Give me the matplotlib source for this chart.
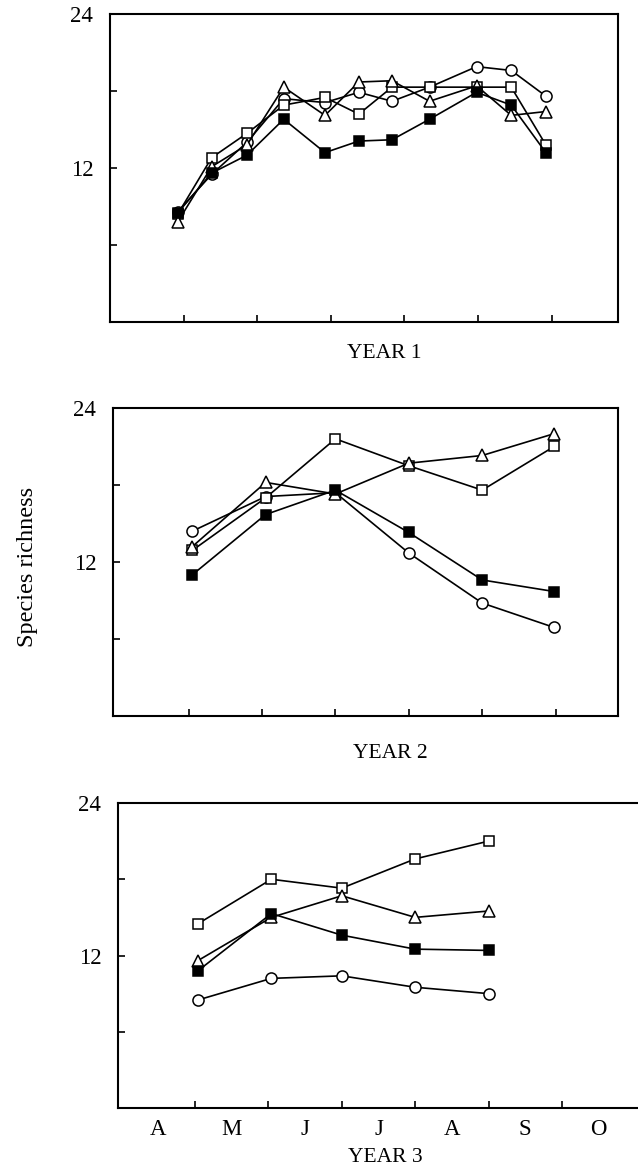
import matplotlib
matplotlib.use("Agg")
import matplotlib.pyplot as plt

# ---------------- data ----------------
months = ["A", "M", "J", "J", "A", "S", "O"]

y1_x = [0.92, 1.38, 1.86, 2.36, 2.92, 3.38, 3.83, 4.34, 4.98, 5.45, 5.92]
y1_circle = [8.6, 11.5, 14.0, 17.4, 17.1, 17.9, 17.2, 18.3, 19.9, 19.6, 17.6]
y1_square = [8.4, 12.8, 14.7, 16.9, 17.5, 16.2, 18.3, 18.3, 18.3, 18.3, 13.8]
y1_triangle = [7.8, 12.1, 13.8, 18.3, 16.1, 18.7, 18.8, 17.2, 18.4, 16.1, 16.4]
y1_filled = [8.5, 11.6, 13.0, 15.8, 13.2, 14.1, 14.2, 15.8, 17.9, 16.9, 13.2]

y2_x = [1.05, 2.05, 3.0, 4.0, 5.0, 5.98]
y2_circle = [14.4, 17.1, 17.4, 12.7, 8.8, 6.9]
y2_square = [12.9, 17.0, 21.6, 19.5, 17.6, 21.0]
y2_triangle = [13.2, 18.2, 17.3, 19.7, 20.3, 22.0]
y2_filled = [11.0, 15.7, 17.6, 14.3, 10.6, 9.7]

y3_x = [1.04, 2.04, 3.0, 4.0, 5.0]
y3_circle = [8.5, 10.2, 10.4, 9.5, 9.0]
y3_square = [14.5, 18.0, 17.3, 19.6, 21.0]
y3_triangle = [11.6, 15.0, 16.7, 15.0, 15.5]
y3_filled = [10.8, 15.3, 13.6, 12.5, 12.4]

# ---------------- style ----------------
plt.rcParams['font.family'] = ['Liberation Serif', 'DejaVu Serif']
FS = 15.5
TFS = 16.5

W, H = 638, 1171
fig = plt.figure(figsize=(W / 100, H / 100), dpi=100)


def add_axes(l, r, t, b):
    return fig.add_axes([l / W, 1 - b / H, (r - l) / W, (b - t) / H])


styles = [
    dict(marker='o', mfc='white', mec='black', ms=8.0),
    dict(marker='s', mfc='white', mec='black', ms=7.5),
    dict(marker='^', mfc='white', mec='black', ms=9.0),
    dict(marker='s', mfc='black', mec='black', ms=7.5),
]


def draw(ax, x, series, xlim):
    for ys, st in zip(series, styles):
        ax.plot(x, ys, color='black', lw=1.2, mew=1.1, zorder=3, **st)
    ax.set_xlim(*xlim)
    ax.set_ylim(0, 24)
    ax.set_yticks([6, 12, 18, 24])
    ax.set_yticklabels(['', '12', '', '24'])
    ax.set_xticks([1, 2, 3, 4, 5, 6])
    ax.set_xticklabels([])
    ax.tick_params(axis='both', which='major', direction='in', length=5,
                   width=1.2, labelsize=TFS, pad=12)
    ax.tick_params(axis='y', right=False)
    ax.tick_params(axis='x', top=False)
    for s in ax.spines.values():
        s.set_linewidth(1.5)


ax1 = add_axes(110, 618, 14, 322)
draw(ax1, y1_x, [y1_circle, y1_square, y1_triangle, y1_filled], (0, 6.9))
fig.text(384 / W, 1 - 354 / H, "YEAR 1", ha='center', va='center', fontsize=FS)

ax2 = add_axes(113, 618, 408, 716)
draw(ax2, y2_x, [y2_circle, y2_square, y2_triangle, y2_filled], (-0.03, 6.85))
fig.text(390 / W, 1 - 753 / H, "YEAR 2", ha='center', va='center', fontsize=FS)

ax3 = add_axes(118, 650, 803, 1108)
draw(ax3, y3_x, [y3_circle, y3_square, y3_triangle, y3_filled], (-0.05, 7.2))
ax3.set_xticks([i + 0.5 for i in range(len(months))], minor=True)
ax3.set_xticklabels(months, minor=True)
ax3.tick_params(axis='x', which='minor', length=0, labelsize=TFS, pad=8)
fig.text(385 / W, 1 - 1157 / H, "YEAR 3", ha='center', va='center', fontsize=FS)

fig.text(28 / W, 1 - 567 / H, "Species richness", rotation=90,
         ha='center', va='center', fontsize=17.5)

fig.savefig("out.png", dpi=100)
